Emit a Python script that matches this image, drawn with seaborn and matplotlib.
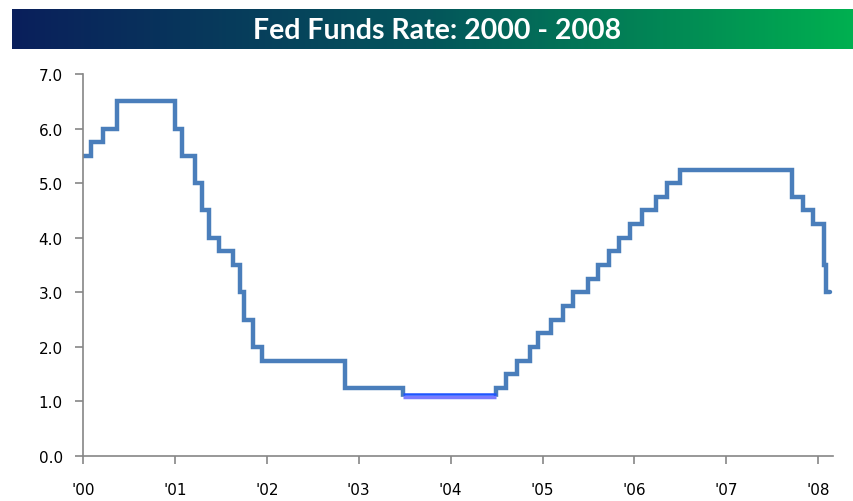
import matplotlib
matplotlib.use("Agg")
import matplotlib.pyplot as plt
import matplotlib.transforms as mtransforms
from matplotlib.colors import LinearSegmentedColormap
import numpy as np
import pandas as pd
import seaborn as sns

# FOMC target rate changes shown in the chart
change_dates = [
    "2000-01-01", "2000-02-02", "2000-03-21", "2000-05-16",
    "2001-01-03", "2001-01-31", "2001-03-20", "2001-04-18", "2001-05-15",
    "2001-06-27", "2001-08-21", "2001-09-17", "2001-10-02", "2001-11-06",
    "2001-12-11", "2002-11-06", "2003-06-25", "2004-06-30", "2004-08-10",
    "2004-09-21", "2004-11-10", "2004-12-14", "2005-02-02", "2005-03-22",
    "2005-05-03", "2005-06-30", "2005-08-09", "2005-09-20", "2005-11-01",
    "2005-12-13", "2006-01-31", "2006-03-28", "2006-05-10", "2006-06-29",
    "2007-09-18", "2007-10-31", "2007-12-11", "2008-01-22", "2008-01-30",
    "2008-02-15",
]
rates = [
    5.50, 5.75, 6.00, 6.50,
    6.00, 5.50, 5.00, 4.50, 4.00,
    3.75, 3.50, 3.00, 2.50, 2.00,
    1.75, 1.25, 1.00, 1.25, 1.50,
    1.75, 2.00, 2.25, 2.50, 2.75,
    3.00, 3.25, 3.50, 3.75, 4.00,
    4.25, 4.50, 4.75, 5.00, 5.25,
    4.75, 4.50, 4.25, 3.50, 3.00,
    3.00,
]
year_ticks = list(range(2000, 2009))
year_labels = ["'00", "'01", "'02", "'03", "'04", "'05", "'06", "'07", "'08"]
y_ticks = [0, 1, 2, 3, 4, 5, 6, 7]


def to_year(dates):
    d = pd.to_datetime(pd.Series(dates))
    start = pd.to_datetime(d.dt.year.astype(str) + "-01-01")
    nxt = pd.to_datetime((d.dt.year + 1).astype(str) + "-01-01")
    return d.dt.year + (d - start) / (nxt - start)


df = pd.DataFrame({"year": to_year(change_dates), "rate": rates})
low = df[df["rate"] == 1.00]
low_seg = pd.DataFrame({
    "year": [low["year"].iloc[0], df["year"].iloc[low.index[0] + 1]],
    "rate": [1.00, 1.00],
})

sns.set_style("white")
plt.rcParams["font.family"] = ["DejaVu Sans"]

fig = plt.figure(figsize=(8.54, 5.02), dpi=100)

# gradient title banner
bax = fig.add_axes([12 / 854, 1 - 50 / 502, 842 / 854, 40 / 502])
cmap = LinearSegmentedColormap.from_list(
    "banner", [(0, "#0a1f5c"), (0.5, "#04565b"), (1, "#00b050")])
bax.imshow(np.linspace(0, 1, 256).reshape(1, -1), aspect="auto", cmap=cmap,
           extent=[0, 1, 0, 1])
bax.set_axis_off()
bax.text(0.505, 0.48, "Fed Funds Rate: 2000 - 2008", color="white",
         fontsize=20.5, fontweight="bold", family=["Lato", "DejaVu Sans"],
         ha="center", va="center", transform=bax.transAxes)

ax = fig.add_axes([83 / 854, 1 - 457 / 502, 750 / 854, 382 / 502])
sns.lineplot(data=df, x="year", y="rate", drawstyle="steps-post",
             color="#4A7EBB", lw=3.2, solid_joinstyle="miter", ax=ax)

# the 1.0% stretch is drawn in a brighter blue, a little above its level
ax.plot(low_seg["year"], low_seg["rate"], color="white", lw=6,
        solid_capstyle="projecting")
ax.plot(low_seg["year"], low_seg["rate"], color="#7b7cff", lw=2.5,
        solid_capstyle="butt",
        transform=mtransforms.offset_copy(ax.transData, fig=fig, y=4.7, units="dots"))
ax.plot(low_seg["year"], low_seg["rate"], color="#1f55ff", lw=1.8,
        solid_capstyle="butt",
        transform=mtransforms.offset_copy(ax.transData, fig=fig, y=7.7, units="dots"))

ax.set_xlim(2000, 2008.16)
ax.set_ylim(0, 7)
ax.set_xticks(year_ticks)
ax.set_xticklabels(year_labels)
ax.set_yticks(y_ticks)
ax.set_yticklabels([f"{v:.1f}" for v in y_ticks])
ax.set_xlabel("")
ax.set_ylabel("")

for side in ["top", "right"]:
    ax.spines[side].set_visible(False)
for side in ["left", "bottom"]:
    ax.spines[side].set_color("#868686")
    ax.spines[side].set_linewidth(1.2)

ax.tick_params(axis="both", direction="out", length=6, width=1.2,
               color="#868686", labelsize=11, labelcolor="black",
               bottom=True, left=True)
ax.tick_params(axis="x", pad=13)
ax.tick_params(axis="y", pad=8.5)
ax.grid(False)

fig.savefig("out.png", dpi=100)
